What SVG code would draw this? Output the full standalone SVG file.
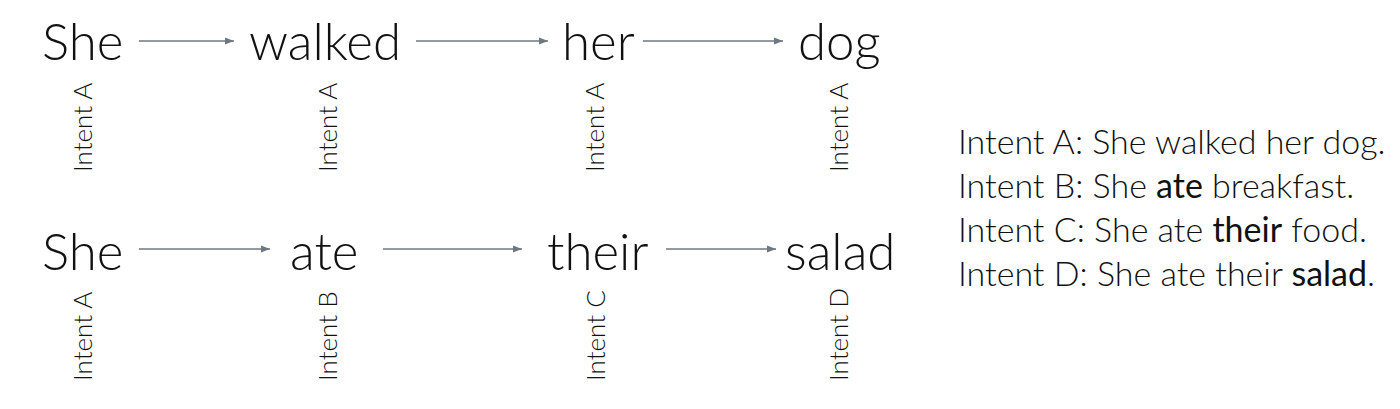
<svg xmlns="http://www.w3.org/2000/svg" width="1400" height="409" viewBox="0 0 1400 409">
<style>
.w{font-family:Lato,"Open Sans","Liberation Sans",sans-serif;font-weight:300;font-size:51px;fill:#111}
.l{font-family:Lato,"Open Sans","Liberation Sans",sans-serif;font-weight:300;font-size:26px;fill:#111}
.g{font-family:Lato,"Open Sans","Liberation Sans",sans-serif;font-weight:300;font-size:34px;fill:#111}
.b{font-weight:400}
.c{stroke:#6f7782;stroke-width:1.3;fill:none;marker-end:url(#ah)}
</style>
<defs>
<marker id="ah" markerWidth="10" markerHeight="8" refX="9" refY="4" orient="auto" markerUnits="userSpaceOnUse">
<path d="M0,0.5 L9,4 L0,7.5 Z" fill="#6f7782"/>
</marker>
</defs>
<rect width="1400" height="409" fill="#fff"/>
<g id="connectors">
<line class="c" x1="139" y1="41" x2="234" y2="41"/>
<line class="c" x1="416" y1="41" x2="548" y2="41"/>
<line class="c" x1="643" y1="41" x2="783" y2="41"/>
<line class="c" x1="139" y1="249" x2="270" y2="249"/>
<line class="c" x1="383" y1="249" x2="522" y2="249"/>
<line class="c" x1="666" y1="249" x2="776" y2="249"/>
</g>
<g id="n1"><text class="w" x="42" y="60">She</text><text class="l" transform="translate(92,172) rotate(-90)">Intent A</text></g>
<g id="n2"><text class="w" x="249" y="60">walked</text><text class="l" transform="translate(337,172) rotate(-90)">Intent A</text></g>
<g id="n3"><text class="w" x="562" y="60">her</text><text class="l" transform="translate(604,172) rotate(-90)">Intent A</text></g>
<g id="n4"><text class="w" x="798" y="60">dog</text><text class="l" transform="translate(848,172) rotate(-90)">Intent A</text></g>
<g id="n5"><text class="w" x="42" y="270">She</text><text class="l" transform="translate(92,381) rotate(-90)">Intent A</text></g>
<g id="n6"><text class="w" x="290" y="270">ate</text><text class="l" transform="translate(337,381) rotate(-90)">Intent B</text></g>
<g id="n7"><text class="w" x="547" y="270">their</text><text class="l" transform="translate(605,381) rotate(-90)">Intent C</text></g>
<g id="n8"><text class="w" x="785" y="270">salad</text><text class="l" transform="translate(848,381) rotate(-90)">Intent D</text></g>
<g id="legend">
<text class="g" x="958" y="154">Intent A: She walked her dog.</text>
<text class="g" x="958" y="198">Intent B: She <tspan class="b">ate</tspan> breakfast.</text>
<text class="g" x="958" y="242">Intent C: She ate <tspan class="b">their</tspan> food.</text>
<text class="g" x="958" y="286">Intent D: She ate their <tspan class="b">salad</tspan>.</text>
</g>
</svg>
